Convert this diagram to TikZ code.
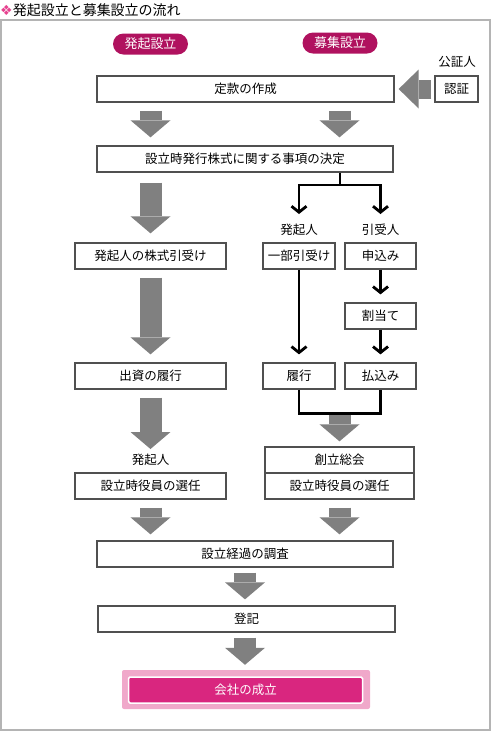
\documentclass[tikz,border=0pt]{standalone}
\usepackage{fontspec}
\setmainfont{Noto Sans CJK JP}
\newfontfamily\symfont{DejaVu Sans}
\usetikzlibrary{arrows.meta, calc, positioning}

\definecolor{badgered}{HTML}{B0125F}
\definecolor{arrowgray}{HTML}{808080}
\definecolor{boxline}{HTML}{505050}
\definecolor{framegray}{HTML}{B4B4B4}
\definecolor{finalpink}{HTML}{D9267F}
\definecolor{finalback}{HTML}{F0A8CA}
\definecolor{markpink}{HTML}{E6428F}

\begin{document}
\begin{tikzpicture}[
    x=1pt, y=-1pt,
    font=\fontsize{12.5}{14}\selectfont,
    box/.style={draw=boxline, line width=1.3pt, fill=white, inner sep=0pt, minimum height=26pt},
    badge/.style={fill=badgered, text=white, rounded corners=10.5pt, minimum width=75pt,
        minimum height=21pt, inner sep=0pt, font=\fontsize{13}{15}\selectfont},
    tag/.style={inner sep=1pt},
    bigarrow/.style={arrowgray, line width=22pt,
        -{Triangle[length=17pt, width=40pt, line width=0pt]}},
    sidearrow/.style={arrowgray, line width=19pt,
        -{Triangle[length=20pt, width=39pt, line width=0pt]}},
    flowline/.style={line width=2.8pt, black},
    flow/.style={flowline, -{Straight Barb[length=6pt, width=15pt]}, shorten >=8pt},
    backplate/.style={fill=finalback, rounded corners=2pt, minimum width=248pt,
        minimum height=39pt, inner sep=0pt},
    finalbox/.style={fill=finalpink, draw=white, line width=1.5pt, rounded corners=1.5pt,
        text=white, minimum width=234pt, minimum height=26pt, inner sep=0pt}
]
\useasboundingbox (0,0) rectangle (491,732);

% title and frame
\node[anchor=west, inner sep=0pt, font=\fontsize{14}{16}\selectfont] (title) at (0,10)
    {{\symfont\textcolor{markpink}{❖}}発起設立と募集設立の流れ};
\draw[framegray, line width=1.3pt] (1,20) rectangle (490,730);

% heads of the two columns
\node[badge] (hokkibadge) at (150.5,44) {発起設立};
\node[badge] (boshubadge) at (340,43) {募集設立};

% boxes
\node[box, minimum width=297pt] (teikan) at (245.5,89) {定款の作成};
\node[box, minimum width=43pt] (ninsho) at (456.5,89) {認証};
\node[tag] (koshonin) at (457,62) {公証人};

\node[box, minimum width=296pt] (kettei) at (245,159) {設立時発行株式に関する事項の決定};

\node[box, minimum width=151pt] (hikiuke) at (150.5,256) {発起人の株式引受け};
\node[tag] (lbhokki) at (299,230) {発起人};
\node[tag] (lbhikiuke) at (380.5,230) {引受人};
\node[box, minimum width=72pt] (ichibu) at (299,256) {一部引受け};
\node[box, minimum width=71pt] (moshikomi) at (380.5,256) {申込み};
\node[box, minimum width=71pt] (wariate) at (380.5,316) {割当て};

\node[box, minimum width=151pt] (shusshi) at (150.5,376) {出資の履行};
\node[box, minimum width=72pt] (rikou) at (299,376) {履行};
\node[box, minimum width=71pt] (haraikomi) at (380.5,376) {払込み};

\node[tag] (lbhokkiL) at (150.5,460) {発起人};
\node[box, minimum width=151pt] (senninL) at (150.5,486) {設立時役員の選任};
\node[box, minimum width=149pt] (soukai) at (339.5,460) {創立総会};
\node[box, minimum width=149pt] (senninR) at (339.5,486) {設立時役員の選任};

\node[box, minimum width=296pt] (chosa) at (245,554) {設立経過の調査};
\node[box, minimum width=297pt] (touki) at (246.5,619) {登記};
\node[backplate] (seiritsuback) at (246,689.5) {};
\node[finalbox] (seiritsu) at (245.5,690) {会社の成立};

% black connectors of the boshu side
\coordinate (split) at (340,185);
\draw[flowline] (kettei.south -| split) -- (split);
\draw[flow, shorten >=9pt] (split) -| (lbhokki.north);
\draw[flow, shorten >=9pt] (split) -| (lbhikiuke.north);
\draw[flow] (ichibu.south) -- (rikou.north);
\draw[flow] (moshikomi.south) -- (wariate.north);
\draw[flow] (wariate.south) -- (haraikomi.north);
\draw[flowline] (rikou.south) -- ++(0,24) coordinate (mergeL) -| (haraikomi.south);
\coordinate (merge) at (mergeL -| soukai);

% grey arrows
\draw[sidearrow, shorten <=3pt, shorten >=4pt] (ninsho.west) -- (teikan.east);
\draw[bigarrow, shorten <=8pt, shorten >=8pt] (teikan.south -| hikiuke) -- (kettei.north -| hikiuke);
\draw[bigarrow, shorten <=8pt, shorten >=8pt] (teikan.south -| soukai) -- (kettei.north -| soukai);
\draw[bigarrow, shorten <=10pt, shorten >=9pt] (kettei.south -| hikiuke) -- (hikiuke.north);
\draw[bigarrow, shorten <=8pt, shorten >=8pt] (hikiuke.south) -- (shusshi.north);
\draw[bigarrow, shorten <=8pt, shorten >=4pt] (shusshi.south) -- (lbhokkiL.north);
\draw[bigarrow, shorten <=1pt, shorten >=5pt] (merge) -- (soukai.north);
\draw[bigarrow, shorten <=8pt, shorten >=6pt] (senninL.south) -- (chosa.north -| senninL);
\draw[bigarrow, shorten <=8pt, shorten >=6pt] (senninR.south) -- (chosa.north -| senninR);
\draw[bigarrow, shorten <=5pt, shorten >=6pt] (chosa.south) -- (touki.north -| chosa);
\draw[bigarrow, shorten <=5pt, shorten >=5pt] (touki.south -| chosa) -- (seiritsuback.north -| chosa);
\end{tikzpicture}
\end{document}
